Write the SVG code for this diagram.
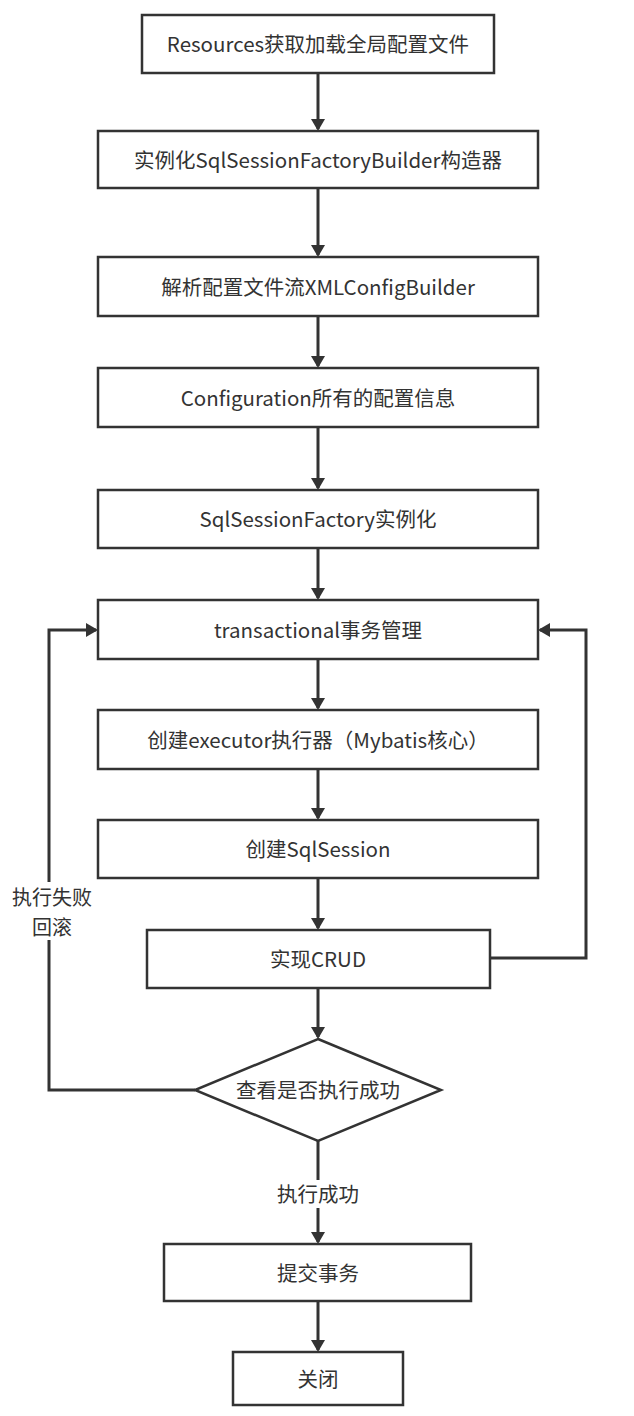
<svg xmlns="http://www.w3.org/2000/svg" width="634" height="1416" viewBox="0 0 634 1416">
<defs>
<style>
.n{fill:#fff;stroke:#333;stroke-width:2.5}
.t{font-family:"Noto Sans CJK SC","Noto Sans",sans-serif;font-size:20.5px;fill:#333;text-anchor:middle;dominant-baseline:central}
.s{font-size:20px}
.c{fill:none;stroke:#333;stroke-width:3}
.lb{fill:#fff}
</style>
<marker id="a" markerWidth="12" markerHeight="14" refX="10" refY="7" orient="auto" markerUnits="userSpaceOnUse">
<path d="M0,0 L12,7 L0,14 Z" fill="#333"/>
</marker>
</defs>
<rect width="634" height="1416" fill="#fff"/>
<g id="connectors">
<path class="c" d="M318,73 V129" marker-end="url(#a)"/>
<path class="c" d="M318,188 V255" marker-end="url(#a)"/>
<path class="c" d="M318,316 V366" marker-end="url(#a)"/>
<path class="c" d="M318,427 V488" marker-end="url(#a)"/>
<path class="c" d="M318,548 V598" marker-end="url(#a)"/>
<path class="c" d="M318,659 V708" marker-end="url(#a)"/>
<path class="c" d="M318,769 V818" marker-end="url(#a)"/>
<path class="c" d="M318,878 V928" marker-end="url(#a)"/>
<path class="c" d="M318,988 V1037" marker-end="url(#a)"/>
<path class="c" d="M318,1141 V1242" marker-end="url(#a)"/>
<path class="c" d="M318,1301 V1350" marker-end="url(#a)"/>
<path class="c" d="M195,1090 H49 V630 H96" marker-end="url(#a)"/>
<path class="c" d="M490,958 H586 V630 H540" marker-end="url(#a)"/>
<rect class="lb" x="8" y="882" width="88" height="58"/>
<text class="t s" x="52" y="896">执行失败</text>
<text class="t s" x="52" y="926">回滚</text>
<rect class="lb" x="276" y="1180" width="84" height="28"/>
<text class="t" x="318" y="1193">执行成功</text>
</g>
<g id="n1"><rect class="n" x="142" y="15" width="352" height="58"/><text class="t" x="318" y="43">Resources获取加载全局配置文件</text></g>
<g id="n2"><rect class="n" x="98" y="131" width="440" height="57"/><text class="t" x="318" y="158.5">实例化SqlSessionFactoryBuilder构造器</text></g>
<g id="n3"><rect class="n" x="98" y="257" width="440" height="59"/><text class="t" x="318" y="285.5">解析配置文件流XMLConfigBuilder</text></g>
<g id="n4"><rect class="n" x="98" y="368" width="440" height="59"/><text class="t" x="318" y="396.5">Configuration所有的配置信息</text></g>
<g id="n5"><rect class="n" x="98" y="490" width="440" height="58"/><text class="t" x="318" y="518">SqlSessionFactory实例化</text></g>
<g id="n6"><rect class="n" x="98" y="600" width="440" height="59"/><text class="t" x="318" y="628.5">transactional事务管理</text></g>
<g id="n7"><rect class="n" x="98" y="710" width="440" height="59"/><text class="t" x="318" y="738.5">创建executor执行器（Mybatis核心）</text></g>
<g id="n8"><rect class="n" x="98" y="820" width="440" height="58"/><text class="t" x="318" y="848">创建SqlSession</text></g>
<g id="n9"><rect class="n" x="147" y="930" width="343" height="58"/><text class="t" x="318" y="958">实现CRUD</text></g>
<g id="n10"><path class="n" d="M318,1039 L441,1090 L318,1141 L195,1090 Z"/><text class="t" x="318" y="1089">查看是否执行成功</text></g>
<g id="n11"><rect class="n" x="164" y="1244" width="307" height="57"/><text class="t" x="318" y="1271.5">提交事务</text></g>
<g id="n12"><rect class="n" x="233" y="1352" width="170" height="53"/><text class="t" x="318" y="1377.5">关闭</text></g>
</svg>
